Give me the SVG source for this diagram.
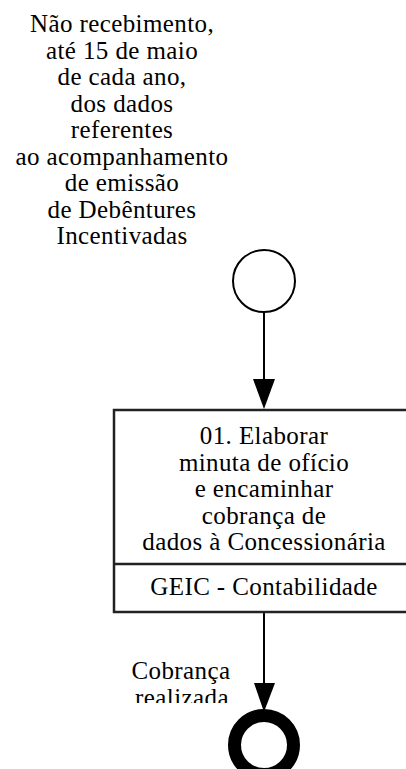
<svg xmlns="http://www.w3.org/2000/svg" width="406" height="769" viewBox="0 0 406 769">
<style>
text{font-family:"Liberation Serif","Times New Roman",serif;font-size:25px;letter-spacing:0.4px;fill:#000;text-anchor:middle}
.edge{stroke:#000;stroke-width:2;fill:none}
.box{fill:#fff;stroke:#222;stroke-width:2.5}
</style>
<defs>
<clipPath id="clipLbl"><rect x="0" y="0" width="406" height="703"/></clipPath>
</defs>
<rect width="406" height="769" fill="#fff"/>
<g id="start-label">
<text x="122" y="32">Não recebimento,</text>
<text x="122" y="58.5">até 15 de maio</text>
<text x="122" y="85">de cada ano,</text>
<text x="122" y="111.5">dos dados</text>
<text x="122" y="138">referentes</text>
<text x="122" y="164.5">ao acompanhamento</text>
<text x="122" y="191">de emissão</text>
<text x="122" y="217.5">de Debêntures</text>
<text x="122" y="244">Incentivadas</text>
</g>
<g id="connectors">
<path class="edge" d="M264,312 L264,380"/>
<path d="M253,379 L275,379 L264,409 Z" fill="#000"/>
<path class="edge" d="M264,613 L264,684"/>
<path d="M254,683 L275,683 L264,712 Z" fill="#000"/>
</g>
<g id="start">
<circle cx="264" cy="281" r="31" fill="#fff" stroke="#000" stroke-width="2"/>
</g>
<g id="task01">
<rect class="box" x="114" y="410" width="302" height="202"/>
<line x1="114" y1="564" x2="416" y2="564" stroke="#222" stroke-width="2.5"/>
<text x="264" y="444">01. Elaborar</text>
<text x="264" y="470.5">minuta de ofício</text>
<text x="264" y="497">e encaminhar</text>
<text x="264" y="523.5">cobrança de</text>
<text x="264" y="550">dados à Concessionária</text>
<text x="264" y="595">GEIC - Contabilidade</text>
</g>
<g id="end-label" clip-path="url(#clipLbl)">
<text x="181" y="679">Cobrança</text>
<text x="182" y="706">realizada</text>
</g>
<g id="end">
<circle cx="264" cy="745" r="29.5" fill="#fff" stroke="#000" stroke-width="13"/>
</g>
</svg>
